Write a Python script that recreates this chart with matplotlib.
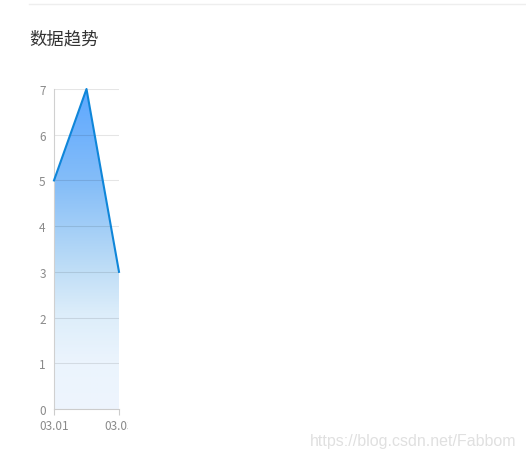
import numpy as np
import matplotlib.pyplot as plt
from matplotlib.colors import LinearSegmentedColormap
from matplotlib.transforms import Bbox

plt.rcParams['font.family'] = ['Noto Sans CJK SC', 'DejaVu Sans']

dates = ['03.01', '03.02', '03.03']
values = [5, 7, 3]
yticks = [0, 1, 2, 3, 4, 5, 6, 7]

fig = plt.figure(figsize=(5.26, 4.64), dpi=100)
W, H = 526, 464

# top separator line
fig.add_artist(plt.Line2D([29 / W, 1], [1 - 5 / H, 1 - 5 / H], color='#eeeeee', lw=1))

fig.text(29 / W, 1 - 39 / H, '数据趋势', fontsize=12.5, color='#333333', va='center', ha='left')

ax = fig.add_axes([54 / W, 1 - 410 / H, 65 / W, 320 / H])
x = np.arange(len(values))
ax.set_xlim(0, len(values) - 1)
ax.set_ylim(0, 7)

# gradient area
cmap = LinearSegmentedColormap.from_list('area', [
    (0.0, '#eef5fd'), (0.15, '#ebf4fd'), (0.3, '#dcedfa'),
    (0.45, '#bcdcf6'), (0.7, '#86bef8'), (1.0, '#5ea8ff')])
grad = np.linspace(0, 1, 256).reshape(-1, 1)
img = ax.imshow(grad, cmap=cmap, origin='lower', aspect='auto',
                extent=[0, len(values) - 1, 0, 7], zorder=1)
poly = ax.fill_between(x, values, 0, color='none', lw=0)
img.set_clip_path(poly.get_paths()[0], transform=ax.transData)

ax.plot(x, values, color='#0f86d9', lw=1.5, zorder=3, clip_on=False)

ax.set_yticks(yticks)
ax.yaxis.grid(True, color='#000000', alpha=0.1, lw=0.8)
for gl in ax.get_ygridlines():
    gl.set_zorder(2)

ax.set_xticks([0, 2])
ax.set_xticklabels([dates[0], dates[2]])
ax.tick_params(axis='y', length=0, labelsize=8.5, labelcolor='#8a8a8a', pad=6)
ax.tick_params(axis='x', length=4, color='#cccccc', labelsize=8.5, labelcolor='#8a8a8a', pad=3)

for s in ['top', 'right']:
    ax.spines[s].set_visible(False)
ax.spines['left'].set_color('#d0d0d0')
ax.spines['bottom'].set_color('#cccccc')

# last x label is cut off by the chart box
clip = Bbox([[0, 0], [128, H]])
for lab in ax.get_xticklabels():
    lab.set_clip_on(True)
    lab.set_clip_box(clip)

fig.text(1 - 10 / W, 1 - 442 / H, 'https://blog.csdn.net/Fabbom', fontsize=11.5,
         color='#e0e0e0', ha='right', va='center', family='Liberation Sans')

fig.savefig('out.png', dpi=100)
